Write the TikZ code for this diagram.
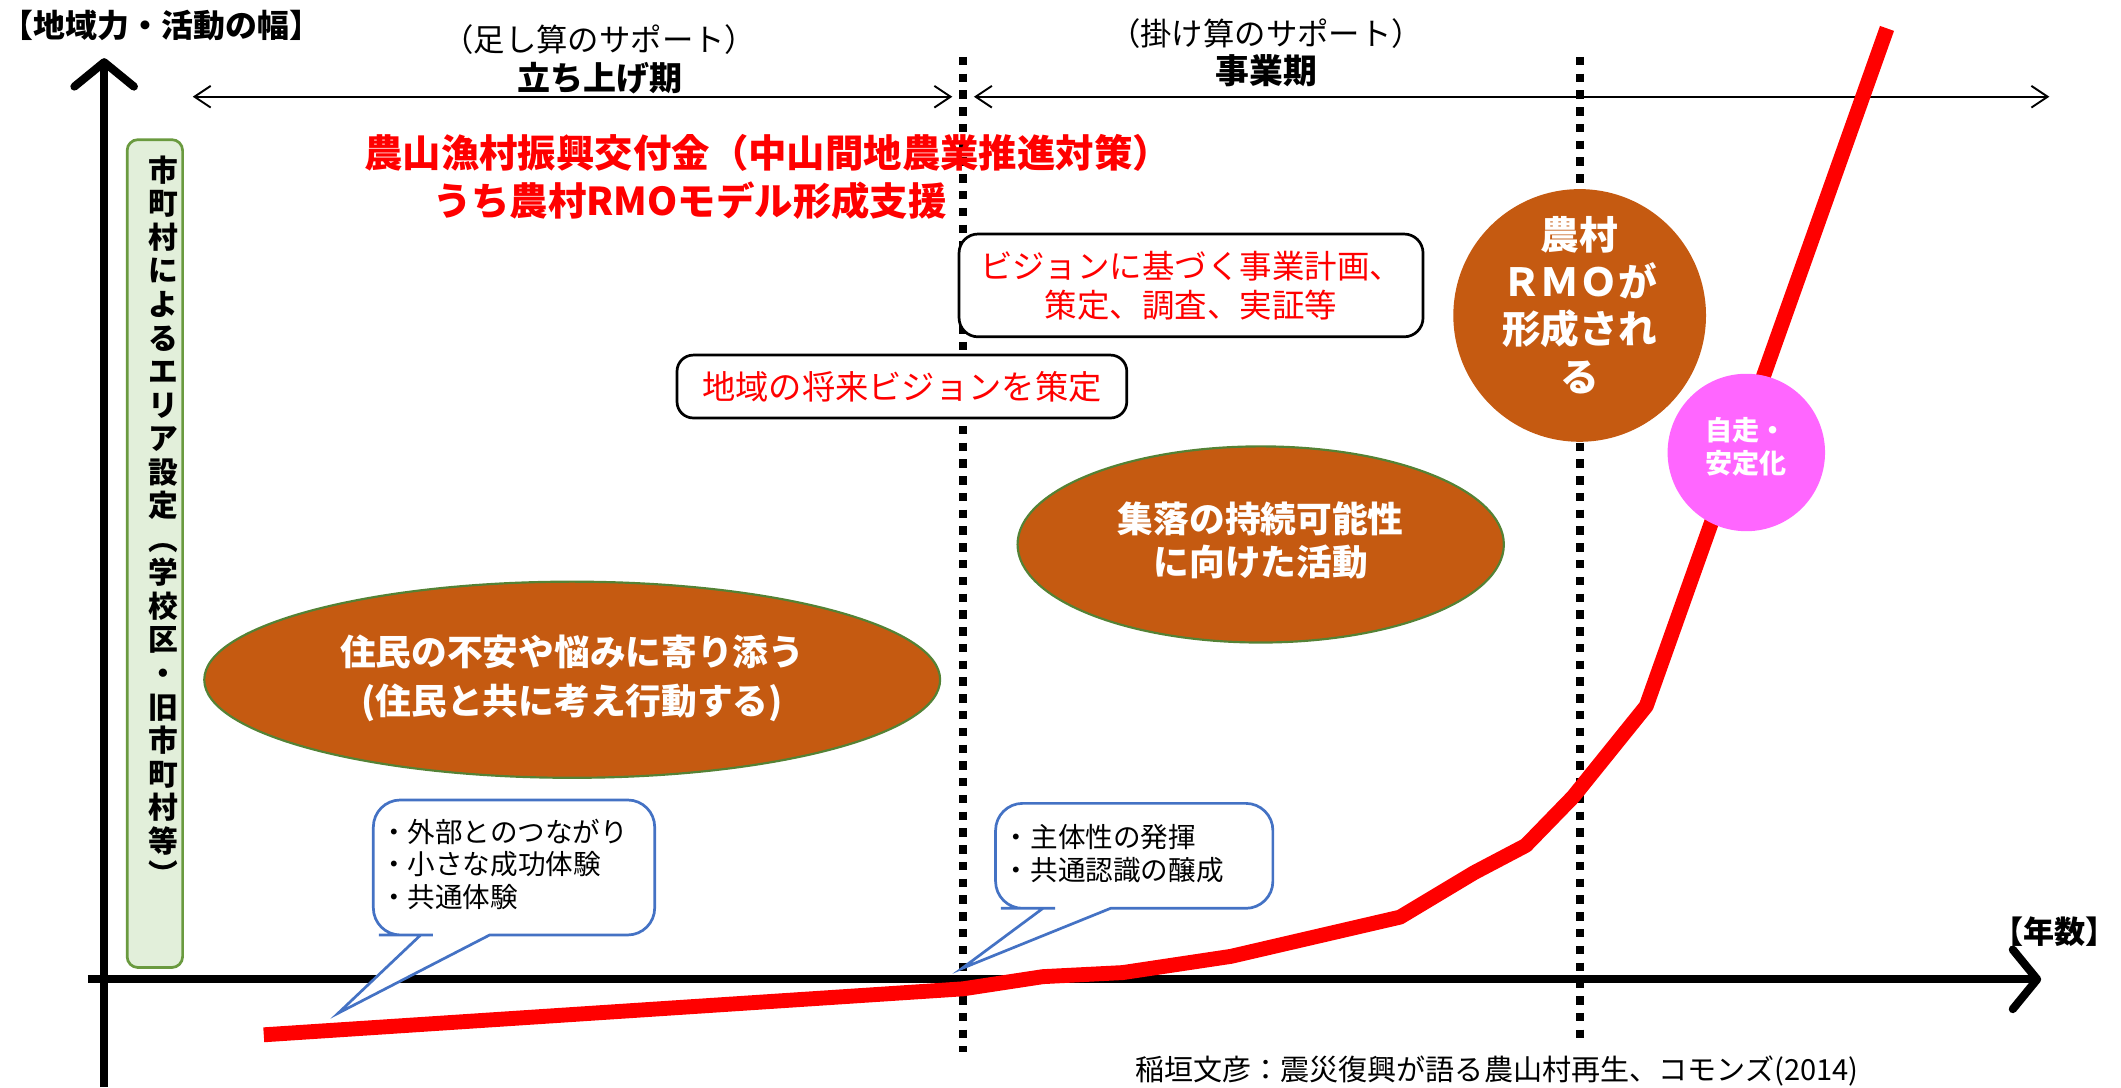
\documentclass[tikz,border=0pt]{standalone}
\usepackage{fontspec}
\setmainfont{Noto Sans CJK JP}
\usetikzlibrary{arrows.meta,shapes.geometric}
\definecolor{rline}{HTML}{FF0000}
\definecolor{rbrown}{HTML}{C55A11}
\definecolor{egreen}{HTML}{548235}
\definecolor{bgreen}{HTML}{E2EFDA}
\definecolor{bgreenedge}{HTML}{6A9A3F}
\definecolor{pinkc}{HTML}{FF66FF}
\definecolor{cblue}{HTML}{4472C4}
\newcommand\fsz[2]{\fontsize{#1}{#2}\selectfont}
\begin{document}
\begin{tikzpicture}[x=0.5pt,y=-0.5pt,
  txt/.style={inner sep=0pt},
  vdash/.style={line width=2.7pt, dash pattern=on 3.1pt off 3.1pt},
  axisline/.style={line width=3pt, -{Straight Barb[length=9pt,width=22pt,round]}},
  parrow/.style={line width=0.7pt, {Straight Barb[length=6pt,width=8pt]}-{Straight Barb[length=6pt,width=8pt]}},
  rcurve/.style={line width=5.5pt, draw=rline, line join=round},
  rbox/.style={draw=black, line width=1pt, rounded corners=7pt, fill=white, text=rline, align=center, inner sep=0pt},
  blob/.style={ellipse, draw=egreen, line width=0.8pt, fill=rbrown, inner sep=0pt},
  wtext/.style={txt, text=white, align=center, font=\bfseries\fsz{13.2}{16}},
  callout/.style={draw=cblue, line width=1pt, fill=white},
  ctext/.style={txt, align=left, anchor=west, font=\fsz{10.2}{12}}
]
\useasboundingbox (0,0) rectangle (1568,803.6);

% dotted period separators
\coordinate (d1t) at (712,42);
\coordinate (d1b) at (712,778);
\coordinate (d2t) at (1168,42);
\coordinate (d2b) at (1168,772);
\draw[vdash] (d1t) -- (d1b);
\draw[vdash] (d2t) -- (d2b);

% axes
\coordinate (yb) at (77,803.6);
\coordinate (yt) at (77,43);
\coordinate (xl) at (65,724);
\coordinate (xr) at (1509,724);
\draw[axisline] (yb) -- (yt);
\draw[axisline] (xl) -- (xr);

% axis labels
\node[txt, anchor=west, font=\bfseries\fsz{11.8}{13}] (ylab) at (1,19) {【地域力・活動の幅】};
\node[txt, font=\bfseries\fsz{11.5}{13}] (xlab) at (1519,689) {【年数】};

% period headers
\node[txt, font=\fsz{11.6}{14}] (sup1) at (443,29) {（足し算のサポート）};
\node[txt, font=\bfseries\fsz{12.2}{14}] (per1) at (443.6,58) {立ち上げ期};
\node[txt, font=\fsz{11.6}{14}] (sup2) at (936,25) {（掛け算のサポート）};
\node[txt, font=\bfseries\fsz{12.5}{14}] (per2) at (936,52) {事業期};
\coordinate (a1s) at (142.5,71.5);
\coordinate (a1e) at (704,71.5);
\coordinate (a2s) at (720,71.5);
\coordinate (a2e) at (1515,71.5);
\draw[parrow] (a1s) -- (a1e);
\draw[parrow] (a2s) -- (a2e);

% red growth curve
\coordinate (r0) at (195,765);
\coordinate (r1) at (712,731);
\coordinate (r2) at (771,722);
\coordinate (r3) at (830,719);
\coordinate (r4) at (910,707);
\coordinate (r5) at (1035,678);
\coordinate (r6) at (1090,645);
\coordinate (r7) at (1128,625);
\coordinate (r8) at (1163,589);
\coordinate (r9) at (1217,522);
\coordinate (r10) at (1395,21);
\draw[rcurve] (r0) -- (r1) -- (r2) -- (r3) -- (r4) -- (r5) -- (r6) -- (r7) -- (r8) -- (r9) -- (r10);

% red title
\node[txt, text=rline, font=\bfseries\fsz{14.2}{16}] (rt1) at (567.5,113) {農山漁村振興交付金（中山間地農業推進対策）};
\node[txt, text=rline, font=\bfseries\fsz{14.2}{16}] (rt2) at (510,148.5) {うち農村RMOモデル形成支援};

% vertical green box
\node[draw=bgreenedge, line width=1pt, fill=bgreen, rounded corners=4pt, minimum width=20.5pt, minimum height=306pt, inner sep=0pt] (area) at (114.5,409.25) {};
\node[txt, align=center, font=\bfseries\fsz{11}{12.4}] (areatxt) at (121,385) {市\\町\\村\\に\\よ\\る\\エ\\リ\\ア\\設\\定\\︵\\学\\校\\区\\・\\旧\\市\\町\\村\\等\\︶};

% boxes
\node[rbox, minimum width=171.5pt, minimum height=38pt, font=\fsz{12}{14.5}] (plan) at (880.5,211) {ビジョンに基づく事業計画、\\策定、調査、実証等};
\node[rbox, rounded corners=6pt, minimum width=166.25pt, minimum height=23.25pt, font=\fsz{12.3}{14}] (vision) at (666.75,285.75) {地域の将来ビジョンを策定};

% ellipses
\node[blob, minimum width=179.75pt, minimum height=72.5pt] (shuraku) at (932,402.5) {};
\node[wtext, font=\bfseries\fsz{13.2}{15.85}] (shurakutxt) at (932,399.6) {集落の持続可能性\\に向けた活動};
\node[blob, minimum width=272pt, minimum height=72.5pt] (jumin) at (423,502.5) {};
\node[wtext, font=\bfseries\fsz{13.2}{18}] (jumintxt) at (423,501.7) {住民の不安や悩みに寄り添う\\(住民と共に考え行動する)};

% circles
\node[circle, fill=rbrown, minimum size=93.4pt, inner sep=0pt] (rmo) at (1167.8,233.2) {};
\node[wtext, font=\bfseries\fsz{14.3}{17.5}] (rmotxt) at (1167.8,225.5) {農村\\ＲＭＯが\\形成され\\る};
\node[circle, fill=pinkc, minimum size=58.2pt, inner sep=0pt] (self) at (1291,334.5) {};
\node[wtext, font=\bfseries\fsz{10}{12.25}] (selftxt) at (1291,330) {自走・\\安定化};

% callout 1
\draw[callout] (311,691.2) -- (250,749) -- (362,691.2) -- (370,691.2) [rounded corners=10pt] -- (484,691.2) -- (484,591.4) -- (276,591.4) -- (276,691.2) -- (300,691.2) [sharp corners] -- cycle;
\node[ctext] (c1txt) at (280.6,639) {・外部とのつながり\\・小さな成功体験\\・共通体験};
% callout 2
\draw[callout] (771,671.5) -- (711,716) -- (821,671.5) -- (830,671.5) [rounded corners=10pt] -- (941,671.5) -- (941,593.9) -- (736,593.9) -- (736,671.5) -- (760,671.5) [sharp corners] -- cycle;
\node[ctext] (c2txt) at (741,631) {・主体性の発揮\\・共通認識の醸成};

% citation
\node[txt, font=\fsz{10.75}{13}] (cite) at (1106.5,792) {稲垣文彦：震災復興が語る農山村再生、コモンズ(2014)};
\end{tikzpicture}
\end{document}
